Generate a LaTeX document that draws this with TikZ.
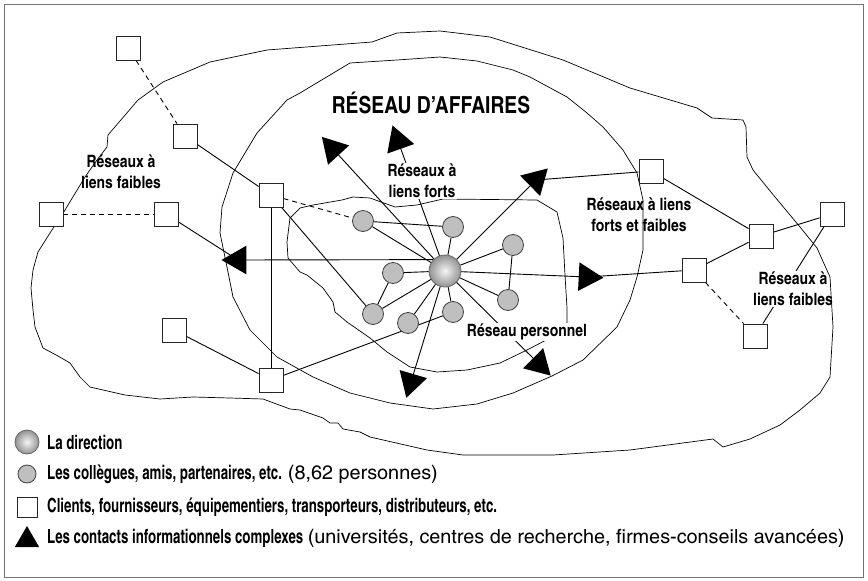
\documentclass[tikz,border=0pt]{standalone}
\usepackage{fontspec}
\setmainfont{texgyreheroscn}[Extension=.otf, UprightFont=*-regular, BoldFont=*-bold, ItalicFont=*-italic, BoldItalicFont=*-bolditalic]
\newfontfamily\keybold{texgyreheroscn-bold.otf}[FakeStretch=0.83]
\newfontfamily\keyreg{texgyreheroscn-regular.otf}[FakeStretch=1.24]
\usetikzlibrary{shapes.geometric}

\pgfdeclarelayer{links}
\pgfsetlayers{links,main}

\tikzset{
  sq/.style={draw=black!85, fill=white, minimum size=24pt, inner sep=0pt, line width=0.9pt},
  pal/.style={circle, draw=black!75, fill=gray!50, minimum size=21pt, inner sep=0pt, line width=0.8pt},
  hubst/.style={circle, minimum size=32pt, inner sep=0pt, draw=black!60, line width=0.8pt,
                shading=radial, inner color=gray!8, outer color=gray!85},
  tri/.style={regular polygon, regular polygon sides=3, fill=black, draw=none,
              minimum size=33pt, inner sep=0pt},
  link/.style={line width=0.9pt, black},
  weak/.style={link, dash pattern=on 5pt off 4pt},
  contour/.style={line width=0.7pt, black, line join=round},
  lbl/.style={font=\fontsize{17}{20.5}\selectfont\bfseries, align=center, inner sep=1pt},
  masked/.style={lbl, fill=white},
  legtext/.style={font=\fontsize{19.5}{22}\selectfont, anchor=west, inner sep=0pt}
}

\begin{document}
\begin{tikzpicture}[x=1pt, y=-1pt]
\useasboundingbox (0,0) rectangle (868,581);

% frame
\draw[line width=1.5pt, black!55] (4.5,4.5) rectangle (863.5,577.5);

% personal network contour
\draw[contour] (342,200) -- (353,197) -- (370,198) -- (395,207) -- (417,205) -- (443,199)
  -- (537,200) -- (557,212) -- (563,238) -- (565,275) -- (567,308) -- (567,323)
  -- (550,338) -- (527,350) -- (500,363) -- (467,370) -- (437,372) -- (410,367)
  -- (387,352) -- (370,338) -- (347,322) -- (335,312) -- (333,302) -- (323,288)
  -- (307,275) -- (300,272) -- (288,258) -- (287,242) -- (290,218) -- (300,208)
  -- (313,205) -- cycle;

% labels
\node[lbl] (lblweakL) at (121,172) {Réseaux à\\liens faibles};
\node[masked] (lblstrong) at (422,181) {Réseaux à\\liens forts};
\node[lbl] (lblmixed) at (639,215) {Réseaux à liens\\forts et faibles};
\node[masked] (lblweakR) at (793,289) {Réseaux à\\liens faibles};
\node[masked] (lblperso) at (527,332) {Réseau personnel};
\node[font=\fontsize{23.5}{26}\selectfont\bfseries, inner sep=1pt] (title) at (431,103) {RÉSEAU D’AFFAIRES};

% business network contour
\draw[contour] (440,57) -- (477,61) -- (513,70) -- (530,77) -- (567,97) -- (587,113)
  -- (603,127) -- (623,150) -- (637,173) -- (643,200) -- (643,250) -- (637,277)
  -- (630,300) -- (617,327) -- (583,360) -- (552,376) -- (513,393) -- (477,404)
  -- (433,409) -- (390,403) -- (350,393) -- (313,377) -- (277,357) -- (250,330)
  -- (233,297) -- (227,267) -- (220,233) -- (222,207) -- (233,173) -- (257,133)
  -- (287,100) -- (300,93) -- (350,63) -- (397,60) -- cycle;

% weak ties contour
\draw[contour] (65,210) -- (50,233) -- (38,252) -- (33,270) -- (31,288) -- (33,310)
  -- (35,327) -- (43,348) -- (58,356) -- (70,363) -- (80,377) -- (90,387) -- (125,395)
  -- (160,399) -- (193,397) -- (230,398) -- (263,399) -- (290,409) -- (300,410)
  -- (323,418) -- (330,423) -- (338,423) -- (343,429) -- (360,432) -- (370,437)
  -- (427,450) -- (463,455) -- (553,455) -- (630,450) -- (713,439) -- (723,447)
  -- (750,439) -- (780,425) -- (800,410) -- (820,393) -- (830,377) -- (833,327)
  -- (830,277) -- (817,248) -- (800,227) -- (775,197) -- (753,170) -- (747,157)
  -- (746,127) -- (743,120) -- (712,118) -- (697,108) -- (630,88) -- (563,60)
  -- (490,37) -- (440,31) -- (397,33) -- (372,42) -- (267,50) -- (210,62)
  -- (163,82) -- (138,100) -- (108,135) -- (107,147) -- (97,160) -- (85,177) -- cycle;

% external partners
\node[sq] (s1) at (128,48) {};
\node[sq] (s2) at (185,136) {};
\node[sq] (s3) at (271,195) {};
\node[sq] (s4) at (51,214) {};
\node[sq] (s5) at (166,214) {};
\node[sq] (s6) at (174,330) {};
\node[sq] (s7) at (271,380) {};
\node[sq] (s8) at (651,171) {};
\node[sq] (s9) at (761,236) {};
\node[sq] (s10) at (832,214) {};
\node[sq] (s11) at (694,270) {};
\node[sq] (s12) at (755,336) {};

% colleagues and friends
\node[pal] (c1) at (363,221) {};
\node[pal] (c2) at (453,227) {};
\node[pal] (c3) at (513,245) {};
\node[pal] (c4) at (393,273) {};
\node[pal] (c5) at (508,300) {};
\node[pal] (c6) at (373,314) {};
\node[pal] (c7) at (408,323) {};
\node[pal] (c8) at (453,312) {};

% management
\node[hubst] (hub) at (445,271) {};

% complex information contacts
\node[tri, rotate=42.5] (t1) at (333,149) {};
\node[tri, rotate=19.5] (t2) at (398,141) {};
\node[tri, rotate=-45.6] (t3) at (536,180) {};
\node[tri, rotate=90] (t4) at (238,260) {};
\node[tri, rotate=-92.8] (t5) at (587,277) {};
\node[tri, rotate=-134.7] (t6) at (539,364) {};
\node[tri, rotate=163.6] (t7) at (411,382) {};

% connectors
\begin{pgfonlayer}{links}
  \draw[link] (hub) -- (c1);
  \draw[link] (hub) -- (c2);
  \draw[link] (hub) -- (c3);
  \draw[link] (hub) -- (c4);
  \draw[link] (hub) -- (c5);
  \draw[link] (hub) -- (c6);
  \draw[link] (hub) -- (c7);
  \draw[link] (hub) -- (c8);
  \draw[link] (hub.center) -- (t1.center);
  \draw[link] (hub.center) -- (t2.center);
  \draw[link] (hub.center) -- (t3.center);
  \draw[link] (hub.136) -- (t4.center);
  \draw[link] (hub.center) -- (t5.center);
  \draw[link] (hub.center) -- (t6.center);
  \draw[link] (hub.center) -- (t7.center);
  \draw[link] (c1) -- (c2);
  \draw[link] (c3) -- (c5);
  \draw[link] (c4) -- (c6);
  \draw[link] (s3) -- (c6);
  \draw[link] (s7) -- (c8);
  \draw[weak] (s3) -- (c1);
  \draw[weak] (s1) -- (s2);
  \draw[link] (s2) -- (s3);
  \draw[link] (s3) -- (s7);
  \draw[link] (s6) -- (s7);
  \draw[weak] (s4) -- (s5);
  \draw[link] (s5) -- (t4.center);
  \draw[link] (s8) -- (t3.center);
  \draw[link] (s8) -- (s9);
  \draw[link] (s9) -- (s10);
  \draw[link] (s9) -- (s11);
  \draw[link] (s11) -- (t5.center);
  \draw[weak] (s11) -- (s12);
  \draw[link] (s10) -- (s12);
\end{pgfonlayer}

% key
\node[hubst, minimum size=24pt] (keyhub) at (27,442) {};
\node[pal, minimum size=18pt] (keypal) at (27,474) {};
\node[sq, minimum size=20pt] (keysq) at (27,507) {};
\node[tri, minimum size=28pt, yshift=-2pt] (keytri) at (27,538) {};
\node[legtext] (keyhubtxt) at (47,442) {\keybold La direction};
\node[legtext] (keypaltxt) at (47,474) {{\keybold Les collègues, amis, partenaires, etc.} {\keyreg (8,62 personnes)}};
\node[legtext] (keysqtxt) at (47,507) {\keybold Clients, fournisseurs, équipementiers, transporteurs, distributeurs, etc.};
\node[legtext] (keytritxt) at (47,538) {{\keybold Les contacts informationnels complexes} {\keyreg (universités, centres de recherche, firmes-conseils avancées)}};
\end{tikzpicture}
\end{document}
